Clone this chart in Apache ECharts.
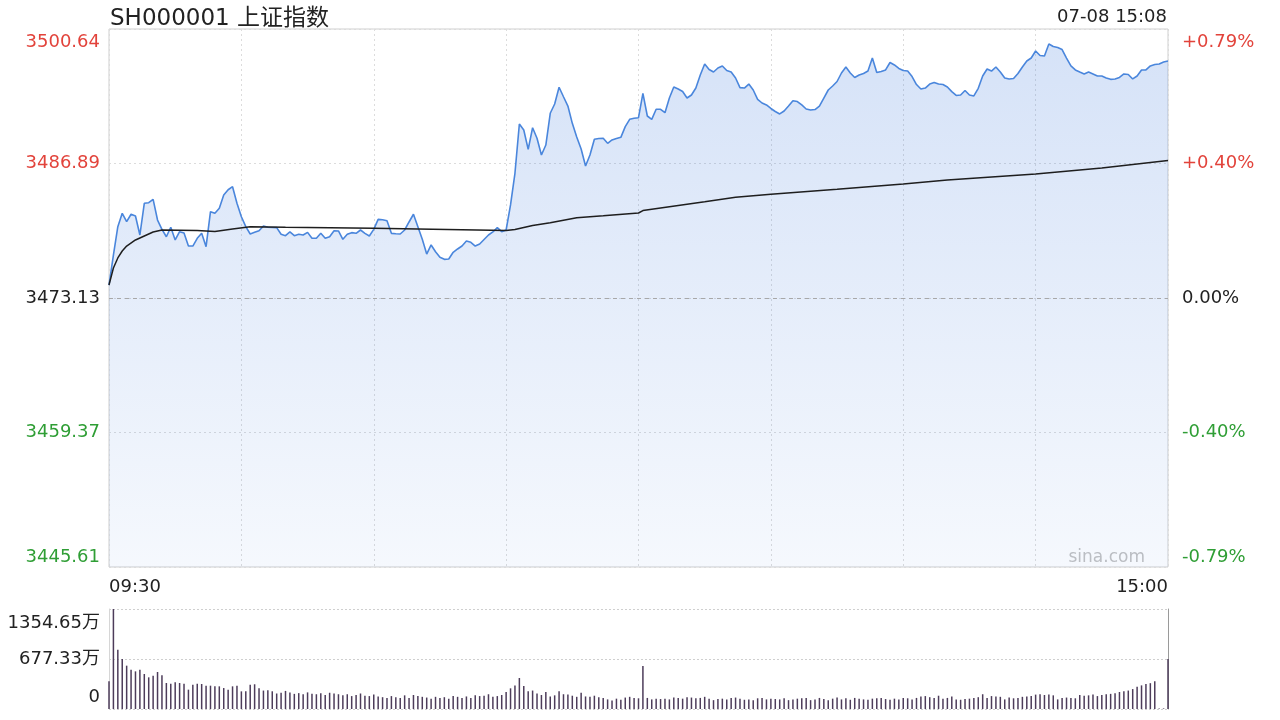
<!DOCTYPE html>
<html>
<head>
<meta charset="utf-8">
<title>SH000001 上证指数</title>
<script src="https://cdn.jsdelivr.net/npm/echarts@6/dist/echarts.min.js"></script>
<style>
  html, body { margin: 0; padding: 0; background: #fff; }
  #chart { width: 1280px; height: 720px; }
</style>
</head>
<body>
<div id="chart"></div>
<script>
// 分钟序号: 0 = 09:30, 120 = 11:30 / 13:00, 240 = 15:00
const prevClose = 3473.13

const priceAm = [
  [0, 3474.45], [1, 3477.52], [2, 3480.42], [3, 3481.79], [4, 3480.93], [5, 3481.69], [6, 3481.51], [7, 3479.57],
  [8, 3482.81], [9, 3482.87], [10, 3483.22], [11, 3481.10], [12, 3480.15], [13, 3479.39], [14, 3480.36], [15, 3479.06],
  [16, 3479.91], [17, 3479.77], [18, 3478.44], [19, 3478.44], [20, 3479.23], [21, 3479.74], [22, 3478.37], [23, 3481.95],
  [24, 3481.79], [25, 3482.30], [26, 3483.66], [27, 3484.20], [28, 3484.51], [29, 3482.81], [30, 3481.44], [31, 3480.42],
  [32, 3479.67], [33, 3479.84], [34, 3480.01], [35, 3480.49], [36, 3480.36], [37, 3480.34], [38, 3480.32], [39, 3479.64],
  [40, 3479.50], [41, 3479.88], [42, 3479.50], [43, 3479.64], [44, 3479.57], [45, 3479.84], [46, 3479.23], [47, 3479.23],
  [48, 3479.74], [49, 3479.23], [50, 3479.39], [51, 3480.01], [52, 3479.98], [53, 3479.13], [54, 3479.64], [55, 3479.81],
  [56, 3479.74], [57, 3480.08], [58, 3479.74], [59, 3479.47], [60, 3480.15], [61, 3481.17], [62, 3481.13], [63, 3481.03],
  [64, 3479.74], [65, 3479.70], [66, 3479.67], [67, 3480.08], [68, 3480.90], [69, 3481.69], [70, 3480.42], [71, 3479.13],
  [72, 3477.62], [73, 3478.55], [74, 3477.86], [75, 3477.29], [76, 3477.08], [77, 3477.11], [78, 3477.80], [79, 3478.14],
  [80, 3478.44], [81, 3478.95], [82, 3478.82], [83, 3478.44], [84, 3478.65], [85, 3479.11], [86, 3479.57], [87, 3479.88],
  [88, 3480.32], [89, 3479.91], [90, 3480.08], [91, 3482.64], [92, 3485.88], [93, 3490.92], [94, 3490.31], [95, 3488.33],
  [96, 3490.54], [97, 3489.46], [98, 3487.75], [99, 3488.77], [100, 3492.02], [101, 3492.97], [102, 3494.68], [103, 3493.71],
  [104, 3492.76], [105, 3490.99], [106, 3489.59], [107, 3488.37], [108, 3486.63], [109, 3487.75], [110, 3489.36], [111, 3489.44],
  [112, 3489.46], [113, 3488.95], [114, 3489.29], [115, 3489.44], [116, 3489.56], [117, 3490.65], [118, 3491.40], [119, 3491.51],
  [120, 3491.57],
]

const pricePm = [
  [121, 3494.06], [122, 3491.74], [123, 3491.40], [124, 3492.43], [125, 3492.43], [126, 3492.08], [127, 3493.58], [128, 3494.71],
  [129, 3494.50], [130, 3494.25], [131, 3493.58], [132, 3493.89], [133, 3494.60], [134, 3495.93], [135, 3497.06], [136, 3496.50],
  [137, 3496.24], [138, 3496.65], [139, 3496.86], [140, 3496.39], [141, 3496.24], [142, 3495.63], [143, 3494.64], [144, 3494.60],
  [145, 3495.01], [146, 3494.40], [147, 3493.45], [148, 3493.07], [149, 3492.87], [150, 3492.51], [151, 3492.20], [152, 3491.95],
  [153, 3492.25], [154, 3492.76], [155, 3493.31], [156, 3493.22], [157, 3492.87], [158, 3492.46], [159, 3492.35], [160, 3492.40],
  [161, 3492.76], [162, 3493.58], [163, 3494.40], [164, 3494.81], [165, 3495.27], [166, 3496.14], [167, 3496.75], [168, 3496.14],
  [169, 3495.68], [170, 3495.93], [171, 3496.09], [172, 3496.34], [173, 3497.67], [174, 3496.19], [175, 3496.29], [176, 3496.45],
  [177, 3497.21], [178, 3496.96], [179, 3496.60], [180, 3496.39], [181, 3496.34], [182, 3495.78], [183, 3494.96], [184, 3494.50],
  [185, 3494.60], [186, 3495.01], [187, 3495.17], [188, 3495.01], [189, 3494.96], [190, 3494.71], [191, 3494.23], [192, 3493.84],
  [193, 3493.89], [194, 3494.35], [195, 3493.89], [196, 3493.79], [197, 3494.57], [198, 3495.83], [199, 3496.55], [200, 3496.34],
  [201, 3496.75], [202, 3496.24], [203, 3495.63], [204, 3495.53], [205, 3495.58], [206, 3496.09], [207, 3496.75], [208, 3497.37],
  [209, 3497.67], [210, 3498.39], [211, 3497.93], [212, 3497.88], [213, 3499.11], [214, 3498.85], [215, 3498.75], [216, 3498.54],
  [217, 3497.67], [218, 3496.86], [219, 3496.45], [220, 3496.24], [221, 3496.04], [222, 3496.24], [223, 3496.04], [224, 3495.83],
  [225, 3495.83], [226, 3495.63], [227, 3495.49], [228, 3495.53], [229, 3495.68], [230, 3496.04], [231, 3495.99], [232, 3495.53],
  [233, 3495.83], [234, 3496.45], [235, 3496.45], [236, 3496.86], [237, 3497.01], [238, 3497.06], [239, 3497.26], [240, 3497.37],
]

// 均价线
const avgPrice = [
  [0, 3474.45], [1, 3476.19], [2, 3477.22], [3, 3477.93], [4, 3478.44], [6, 3479.06], [8, 3479.47], [10, 3479.88],
  [12, 3480.08], [20, 3480.03], [24, 3479.93], [28, 3480.18], [32, 3480.42], [40, 3480.36], [60, 3480.25], [90, 3480.03],
  [92, 3480.13], [96, 3480.54], [100, 3480.83], [106, 3481.34], [112, 3481.54], [120, 3481.82], [121, 3482.07], [127, 3482.46],
  [135, 3482.97], [142, 3483.42], [150, 3483.73], [165, 3484.24], [180, 3484.79], [190, 3485.19], [210, 3485.81], [225, 3486.42],
  [240, 3487.19],
]

// 成交量 (万), 每分钟一根
const volumeAm = [
  375, 1354.65, 804, 677, 587, 533, 510, 533, 474, 429, 452, 501, 456, 352, 343, 361,
  352, 343, 262, 330, 343, 339, 316, 316, 307, 307, 284, 262, 307, 316, 239, 239,
  330, 335, 280, 250, 255, 240, 210, 220, 245, 225, 205, 215, 200, 225, 205, 200,
  215, 190, 220, 210, 200, 185, 200, 175, 190, 210, 180, 175, 195,
  170, 160, 150, 175, 160, 150, 185, 150, 190, 175, 165, 155, 140, 165, 150, 160,
  140, 175, 165, 150, 170, 150, 185, 175, 180, 200, 165, 175, 190, 230,
  280, 320, 420, 310, 240, 250, 210, 190, 230, 170, 185, 240, 200, 195, 180, 165,
  220, 170, 165, 180, 160, 150, 130, 115, 140, 125, 155, 165, 150, 145,
]
const volumePm = [
  583, 150, 130, 140, 135, 140, 130, 155, 150, 140, 160, 155, 145, 150, 165, 140,
  120, 135, 140, 130, 150, 155, 140, 125, 130, 120, 145, 150, 130, 140,
  135, 130, 145, 120, 130, 140, 145, 150, 120, 130, 150, 135, 120, 140, 155, 130,
  145, 125, 150, 140, 130, 125, 140, 145, 150, 135, 125, 140, 130, 150,
  145, 130, 150, 170, 175, 160, 150, 180, 140, 150, 170, 130, 125, 135, 140, 150,
  160, 200, 150, 175, 170, 165, 130, 155, 145, 150, 165, 170, 175, 195,
  200, 190, 195, 185, 130, 150, 155, 150, 145, 190, 180, 185, 195, 175, 190, 200,
  205, 215, 230, 240, 250, 270, 300, 320, 340, 350, 375, 6, 8, 677,
]

const priceTicks = ['3445.61', '3459.37', '3473.13', '3486.89', '3500.64']
const pctTicks = ['-0.79%', '-0.40%', '0.00%', '+0.40%', '+0.79%']
const volTicks = ['0', '677.33万', '1354.65万']
const timeTicks = { 0: '09:30', 240: '15:00' }

const priceMin = 3445.61
const priceMax = 3500.64
const volMax = 1354.65

const FONT = '"DejaVu Sans", "Noto Sans CJK SC", sans-serif'
const RED = '#e2433b'
const GREEN = '#2f9e35'
const DARK = '#222'

const priceStep = (priceMax - priceMin) / 4
const tickIndex = v => Math.round((v - priceMin) / priceStep)

// 首尾刻度文字收进绘图区内
const labelRich = {
  up: { color: RED, fontSize: 18, fontFamily: FONT },
  top: { color: RED, fontSize: 18, fontFamily: FONT, padding: [26, 0, 0, 0] },
  dark: { color: DARK, fontSize: 18, fontFamily: FONT },
  down: { color: GREEN, fontSize: 18, fontFamily: FONT },
  bottom: { color: GREEN, fontSize: 18, fontFamily: FONT, padding: [0, 0, 20, 0] },
}
const richLabel = (texts, v) => {
  const i = tickIndex(v)
  const key = i === 4 ? 'top' : i === 0 ? 'bottom' : i > 2 ? 'up' : i < 2 ? 'down' : 'dark'
  return '{' + key + '|' + texts[i] + '}'
}

const chart = echarts.init(document.getElementById('chart'), null, { renderer: 'canvas' })

const volume = volumeAm.concat(volumePm).map((v, i) => [i, v])

chart.setOption({
  animation: false,
  backgroundColor: '#fff',
  textStyle: { fontFamily: FONT },
  title: [
    {
      text: 'SH000001 上证指数',
      left: 105,
      top: 3,
      textStyle: { fontSize: 23, fontWeight: 'normal', color: DARK, fontFamily: FONT },
    },
    {
      text: '07-08 15:08',
      right: 108,
      top: 3,
      textStyle: { fontSize: 18, fontWeight: 'normal', color: DARK, fontFamily: FONT },
    },
  ],
  graphic: [
    {
      type: 'text',
      right: 135,
      top: 549,
      style: { text: 'sina.com', fontSize: 17, fill: '#c2c2c2', fontFamily: FONT },
    },
  ],
  grid: [
    { left: 109, right: 112, top: 29, height: 538, show: true, borderColor: '#cfcfcf', borderWidth: 1 },
    { left: 109, right: 112, top: 609, height: 100 },
  ],
  xAxis: [
    {
      type: 'value',
      gridIndex: 0,
      min: 0,
      max: 240,
      interval: 30,
      axisLine: { show: false },
      axisTick: { show: false },
      splitLine: { show: true, lineStyle: { color: '#dcdcdc', type: [2, 3] } },
      axisLabel: {
        margin: 11,
        fontSize: 18,
        color: DARK,
        fontFamily: FONT,
        alignMinLabel: 'left',
        alignMaxLabel: 'right',
        formatter: v => timeTicks[v] || '',
      },
    },
    {
      type: 'value',
      gridIndex: 1,
      min: 0,
      max: 240,
      interval: 30,
      axisLine: { show: false },
      axisTick: { show: false },
      axisLabel: { show: false },
      splitLine: { show: false },
    },
  ],
  yAxis: [
    {
      type: 'value',
      gridIndex: 0,
      position: 'left',
      min: priceMin,
      max: priceMax,
      interval: priceStep,
      axisLine: { show: false },
      axisTick: { show: false },
      splitLine: { show: true, lineStyle: { color: '#dcdcdc', type: [2, 3] } },
      axisLabel: {
        margin: 9,
        formatter: v => richLabel(priceTicks, v),
        rich: labelRich,
      },
    },
    {
      type: 'value',
      gridIndex: 0,
      position: 'right',
      min: priceMin,
      max: priceMax,
      interval: priceStep,
      axisLine: { show: false },
      axisTick: { show: false },
      splitLine: { show: false },
      axisLabel: {
        margin: 14,
        formatter: v => richLabel(pctTicks, v),
        rich: labelRich,
      },
    },
    {
      type: 'value',
      gridIndex: 1,
      position: 'left',
      min: 0,
      max: volMax,
      interval: volMax / 2,
      axisLine: { show: true, lineStyle: { color: '#d6d6d6' } },
      axisTick: { show: false },
      splitLine: { show: true, lineStyle: { color: '#cfcfcf', type: [2, 2] } },
      axisLabel: {
        margin: 9,
        fontSize: 18,
        fontFamily: FONT,
        color: DARK,
        formatter: v => {
          const i = Math.round(v / (volMax / 2))
          return '{' + (i === 2 ? 'vtop' : i === 0 ? 'vbot' : 'v') + '|' + volTicks[i] + '}'
        },
        rich: {
          v: { color: DARK, fontSize: 18, fontFamily: FONT },
          vtop: { color: DARK, fontSize: 18, fontFamily: FONT, padding: [28, 0, 0, 0] },
          vbot: { color: DARK, fontSize: 18, fontFamily: FONT, padding: [0, 0, 24, 0] },
        },
      },
    },
    {
      type: 'value',
      gridIndex: 1,
      position: 'right',
      min: 0,
      max: volMax,
      axisLine: { show: true, lineStyle: { color: '#9a9a9a' } },
      axisTick: { show: false },
      axisLabel: { show: false },
      splitLine: { show: false },
    },
  ],
  series: [
    {
      name: '价格',
      type: 'line',
      xAxisIndex: 0,
      yAxisIndex: 0,
      data: priceAm.concat(pricePm),
      showSymbol: false,
      smooth: false,
      lineStyle: { color: '#4a86dc', width: 1.6 },
      areaStyle: {
        origin: 'start',
        color: new echarts.graphic.LinearGradient(0, 0, 0, 1, [
          { offset: 0, color: 'rgba(60, 120, 220, 0.30)' },
          { offset: 1, color: 'rgba(60, 120, 220, 0.07)' },
        ]),
      },
      markLine: {
        silent: true,
        symbol: 'none',
        label: { show: false },
        lineStyle: { color: '#a8a8a8', type: [4, 4], width: 1 },
        data: [{ yAxis: prevClose }],
      },
      z: 3,
    },
    {
      name: '均价',
      type: 'line',
      xAxisIndex: 0,
      yAxisIndex: 0,
      data: avgPrice,
      showSymbol: false,
      smooth: false,
      lineStyle: { color: '#1e1e1e', width: 1.5 },
      z: 4,
    },
    {
      name: '成交量',
      type: 'bar',
      xAxisIndex: 1,
      yAxisIndex: 2,
      data: volume,
      barWidth: 1.5,
      itemStyle: { color: '#4d3c5a' },
    },
  ],
})
</script>
</body>
</html>
